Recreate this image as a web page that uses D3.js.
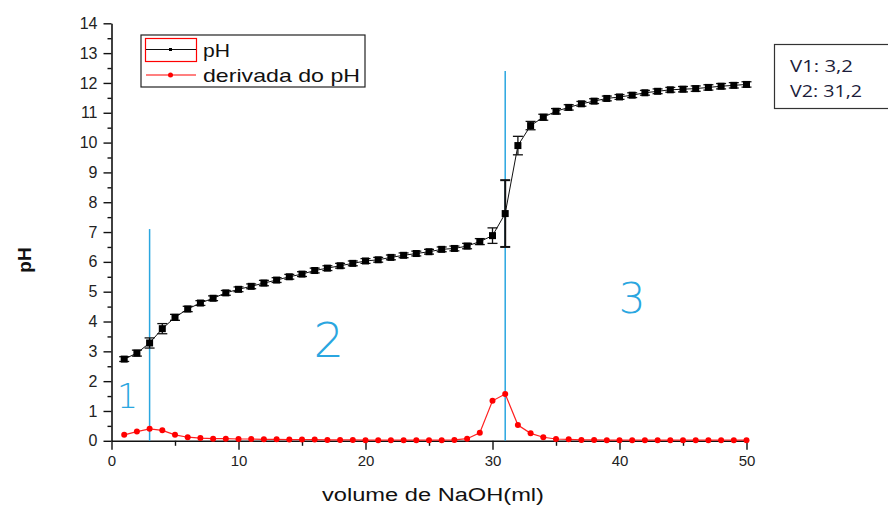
<!DOCTYPE html>
<html>
<head>
<meta charset="utf-8">
<script src="https://cdn.jsdelivr.net/npm/d3@7"></script>
<style>
    html, body { margin: 0; padding: 0; background: #fff; }
    svg { display: block; font-family: "Liberation Sans", Arial, sans-serif; }
</style>
</head>
<body>
<app-chart></app-chart>
<script>
"use strict";

// volume de NaOH (ml)
const volumes = [1, 2, 3, 4, 5, 6, 7, 8, 9, 10, 11, 12, 13, 14, 15, 16, 17, 18, 19, 20,
    21, 22, 23, 24, 25, 26, 27, 28, 29, 30, 31, 32, 33, 34, 35, 36, 37, 38, 39, 40,
    41, 42, 43, 44, 45, 46, 47, 48, 49, 50];
const phValues = [2.74, 2.94, 3.28, 3.76, 4.14, 4.42, 4.62, 4.78, 4.96, 5.08,
    5.18, 5.29, 5.39, 5.50, 5.59, 5.71, 5.79, 5.87, 5.95, 6.03,
    6.07, 6.15, 6.22, 6.28, 6.34, 6.42, 6.45, 6.53, 6.68, 6.88,
    7.62, 9.90, 10.57, 10.85, 11.05, 11.18, 11.30, 11.39, 11.48, 11.53,
    11.59, 11.67, 11.72, 11.77, 11.79, 11.81, 11.85, 11.89, 11.92, 11.95];
const phErrors = [0.08, 0.10, 0.17, 0.17, 0.10, 0.09, 0.08, 0.08, 0.08, 0.08,
    0.08, 0.09, 0.08, 0.08, 0.08, 0.08, 0.08, 0.08, 0.08, 0.08,
    0.08, 0.08, 0.08, 0.08, 0.08, 0.08, 0.08, 0.09, 0.10, 0.26,
    1.12, 0.31, 0.14, 0.10, 0.09, 0.09, 0.08, 0.08, 0.08, 0.08,
    0.08, 0.08, 0.08, 0.08, 0.09, 0.09, 0.09, 0.09, 0.09, 0.09];
const derivValues = [0.20, 0.31, 0.40, 0.35, 0.20, 0.12, 0.09, 0.07, 0.07, 0.06,
    0.06, 0.05, 0.05, 0.04, 0.04, 0.04, 0.03, 0.03, 0.03, 0.02,
    0.02, 0.02, 0.02, 0.02, 0.02, 0.02, 0.03, 0.07, 0.27, 1.34,
    1.57, 0.53, 0.25, 0.12, 0.06, 0.05, 0.03, 0.03, 0.02, 0.02,
    0.02, 0.02, 0.02, 0.02, 0.02, 0.02, 0.02, 0.02, 0.02, 0.02];

const xTicks = [0, 10, 20, 30, 40, 50];
const xMinorTicks = [5, 15, 25, 35, 45];
const yTicks = [0, 1, 2, 3, 4, 5, 6, 7, 8, 9, 10, 11, 12, 13, 14];
const yMinorTicks = [0.5, 1.5, 2.5, 3.5, 4.5, 5.5, 6.5, 7.5, 8.5, 9.5, 10.5, 11.5, 12.5, 13.5];

const seriesNames = ["pH", "derivada do pH"];
const equivVolumes = [3.0, 31.0];
const equivTops = [7.1, 12.4];
const equivLabels = ["V1: 3,2", "V2: 31,2"];
const regionLabels = ["1", "2", "3"];

class AppChart extends HTMLElement {
    margin = {top: 23.3, left: 111.5};
    width = 635;
    height = 417.5;
    blue = "#2aa6e0";

    connectedCallback() {
        this.innerHTML = `<div id="chart-container"></div>`;
        this.initChart();
    }

    initChart() {
        const x = d3.scaleLinear().domain([0, 50]).range([0, this.width]);
        const y = d3.scaleLinear().domain([0, 14]).range([this.height, 0]);

        const root = d3.select(this.querySelector("#chart-container")).append("svg")
            .attr("width", 888)
            .attr("height", 507);

        const svg = root.append("g")
            .attr("transform", "translate(" + this.margin.left + "," + this.margin.top + ")");

        const phData = volumes.map((v, i) => ({v: v, ph: phValues[i], err: phErrors[i]}));
        const derivData = volumes.map((v, i) => ({v: v, d: derivValues[i]}));

        // axes
        const xAxis = svg.append("g")
            .attr("transform", "translate(0," + this.height + ")")
            .call(d3.axisBottom(x).tickValues(xTicks).tickSize(9).tickSizeOuter(0).tickPadding(6));
        svg.append("g")
            .attr("transform", "translate(0," + this.height + ")")
            .call(d3.axisBottom(x).tickValues(xMinorTicks).tickSize(5).tickFormat(""))
            .select(".domain").remove();

        const yAxis = svg.append("g")
            .call(d3.axisLeft(y).tickValues(yTicks).tickSize(8).tickSizeOuter(0).tickPadding(6));
        svg.append("g")
            .call(d3.axisLeft(y).tickValues(yMinorTicks).tickSize(4).tickFormat(""))
            .select(".domain").remove();

        svg.selectAll(".domain").attr("stroke", "#111").attr("stroke-width", 1.6);
        svg.selectAll(".tick line").attr("stroke", "#111").attr("stroke-width", 1.4);
        xAxis.selectAll("text").style("font-size", "15px").attr("fill", "#222");
        yAxis.selectAll("text").style("font-size", "16px").attr("fill", "#222");

        // equivalence lines
        svg.selectAll(".equiv")
            .data(equivVolumes)
            .enter().append("line")
            .attr("x1", (d) => x(d))
            .attr("x2", (d) => x(d))
            .attr("y1", (d, i) => y(equivTops[i]))
            .attr("y2", y(0))
            .attr("stroke", this.blue)
            .attr("stroke-width", 1.5);

        // derivative series
        const dLine = d3.line().x((d) => x(d.v)).y((d) => y(d.d));
        svg.append("path")
            .datum(derivData)
            .attr("d", dLine)
            .attr("fill", "none")
            .attr("stroke", "#ff2020")
            .attr("stroke-width", 1.2);
        svg.selectAll(".ddot")
            .data(derivData)
            .enter().append("circle")
            .attr("cx", (d) => x(d.v))
            .attr("cy", (d) => y(d.d))
            .attr("r", 3)
            .attr("fill", "#f00");

        // pH series with error bars
        const pLine = d3.line().x((d) => x(d.v)).y((d) => y(d.ph));
        svg.append("path")
            .datum(phData)
            .attr("d", pLine)
            .attr("fill", "none")
            .attr("stroke", "#111")
            .attr("stroke-width", 1);

        const bars = svg.selectAll(".err")
            .data(phData)
            .enter().append("g")
            .attr("stroke", "#111")
            .attr("stroke-width", (d) => d.err > 0.5 ? 2 : 1.3);
        bars.append("line")
            .attr("x1", (d) => x(d.v)).attr("x2", (d) => x(d.v))
            .attr("y1", (d) => y(d.ph - d.err)).attr("y2", (d) => y(d.ph + d.err));
        bars.append("line")
            .attr("x1", (d) => x(d.v) - 5).attr("x2", (d) => x(d.v) + 5)
            .attr("y1", (d) => y(d.ph - d.err)).attr("y2", (d) => y(d.ph - d.err));
        bars.append("line")
            .attr("x1", (d) => x(d.v) - 5).attr("x2", (d) => x(d.v) + 5)
            .attr("y1", (d) => y(d.ph + d.err)).attr("y2", (d) => y(d.ph + d.err));

        svg.selectAll(".psq")
            .data(phData)
            .enter().append("rect")
            .attr("x", (d) => x(d.v) - 3.5)
            .attr("y", (d) => y(d.ph) - 3.5)
            .attr("width", 7)
            .attr("height", 7)
            .attr("fill", "#000");

        // handwritten region numbers
        const regionPos = [[1.25, 1.1, 33], [17.1, 2.8, 48], [41.0, 4.3, 42]];
        svg.selectAll(".region")
            .data(regionLabels)
            .enter().append("text")
            .attr("x", (d, i) => x(regionPos[i][0]))
            .attr("y", (d, i) => y(regionPos[i][1]))
            .attr("text-anchor", "middle")
            .style("font-size", (d, i) => regionPos[i][2] + "px")
            .style("font-family", "DejaVu Sans, sans-serif")
            .style("font-weight", 200)
            .attr("fill", this.blue)
            .text((d) => d);

        // axis titles
        root.append("text")
            .attr("x", 433)
            .attr("y", 501)
            .attr("text-anchor", "middle")
            .attr("textLength", 222)
            .attr("lengthAdjust", "spacingAndGlyphs")
            .style("font-size", "18px")
            .attr("fill", "#111")
            .text("volume de NaOH(ml)");

        root.append("text")
            .attr("transform", "translate(24,260)rotate(-90)")
            .attr("text-anchor", "middle")
            .attr("dominant-baseline", "central")
            .style("font-size", "19px")
            .style("font-weight", "bold")
            .attr("fill", "#111")
            .text("pH");

        // legend
        const legend = root.append("g");
        legend.append("rect")
            .attr("x", 141).attr("y", 35).attr("width", 224).attr("height", 52)
            .attr("fill", "#fff").attr("stroke", "#222").attr("stroke-width", 1.2);
        legend.append("rect")
            .attr("x", 145.5).attr("y", 38.5).attr("width", 51).attr("height", 23)
            .attr("fill", "none").attr("stroke", "#f00").attr("stroke-width", 1.2);
        legend.append("line")
            .attr("x1", 146).attr("x2", 196).attr("y1", 49.5).attr("y2", 49.5)
            .attr("stroke", "#111").attr("stroke-width", 1);
        legend.append("rect")
            .attr("x", 169).attr("y", 48).attr("width", 3).attr("height", 3).attr("fill", "#000");
        legend.append("line")
            .attr("x1", 146).attr("x2", 196).attr("y1", 75).attr("y2", 75)
            .attr("stroke", "#f00").attr("stroke-width", 1.2);
        legend.append("circle")
            .attr("cx", 170.5).attr("cy", 75).attr("r", 2.5).attr("fill", "#f00");
        legend.selectAll(".ltext")
            .data(seriesNames)
            .enter().append("text")
            .attr("x", 203)
            .attr("y", (d, i) => i === 0 ? 57 : 81.5)
            .attr("textLength", (d, i) => i === 0 ? 27 : 157)
            .attr("lengthAdjust", "spacingAndGlyphs")
            .style("font-size", "19px")
            .attr("fill", "#111")
            .text((d) => d);

        // V1 / V2 box
        root.append("rect")
            .attr("x", 774.5).attr("y", 44.5).attr("width", 130).attr("height", 64)
            .attr("fill", "#fff").attr("stroke", "#333").attr("stroke-width", 1.2);
        root.selectAll(".vtext")
            .data(equivLabels)
            .enter().append("text")
            .attr("x", 790)
            .attr("y", (d, i) => 72 + i * 25)
            .attr("textLength", (d, i) => i === 0 ? 63 : 72)
            .attr("lengthAdjust", "spacingAndGlyphs")
            .style("font-family", "Open Sans, sans-serif")
            .style("font-size", "17px")
            .attr("fill", "#1c1c3a")
            .text((d) => d);
    }
}

customElements.define("app-chart", AppChart);
</script>
</body>
</html>
